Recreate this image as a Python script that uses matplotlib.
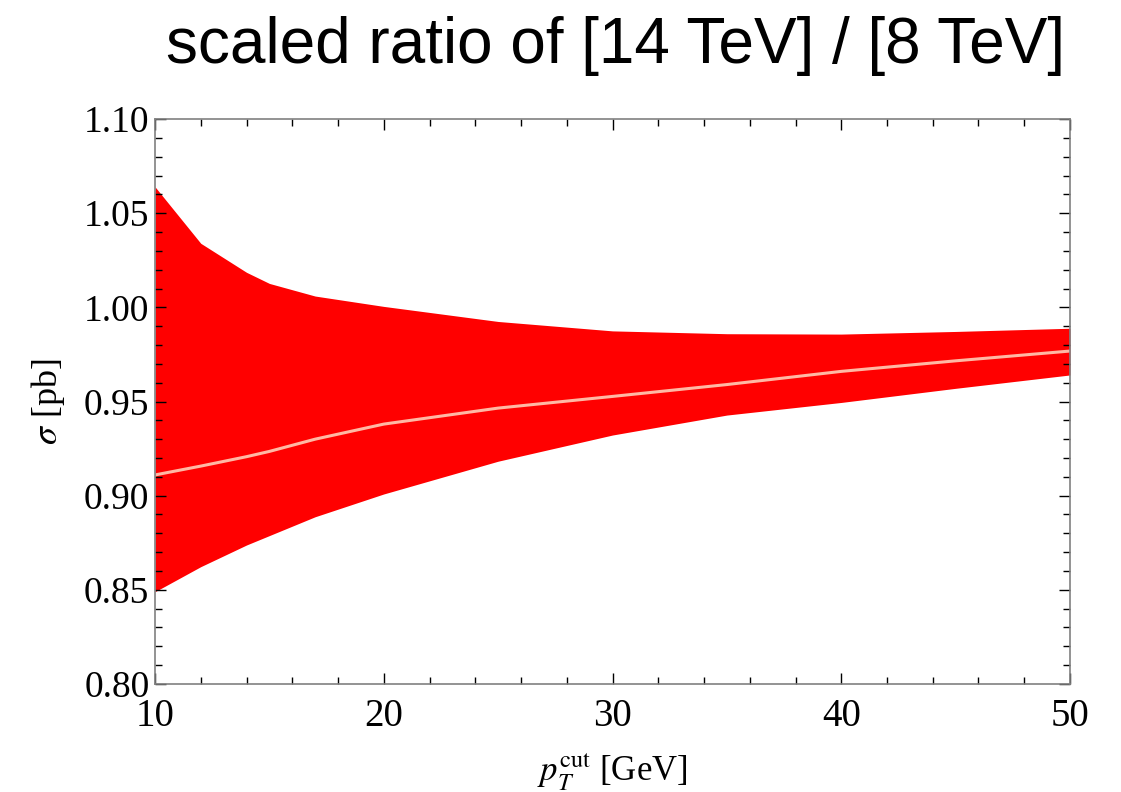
import matplotlib
matplotlib.use('Agg')
import matplotlib.pyplot as plt
from matplotlib.ticker import MultipleLocator

plt.rcParams['font.family'] = 'Liberation Serif'
plt.rcParams['mathtext.fontset'] = 'stix'

pt_cut = [10, 12, 14, 15, 17, 20, 25, 30, 35, 40, 45, 50]
upper = [1.064, 1.034, 1.0186, 1.0127, 1.006, 1.0005, 0.9925, 0.9875, 0.9860, 0.9858, 0.9872, 0.9889]
lower = [0.849, 0.8623, 0.8738, 0.8788, 0.8888, 0.9009, 0.9183, 0.9322, 0.9428, 0.9495, 0.957, 0.9641]
central = [0.911, 0.9157, 0.9207, 0.9235, 0.930, 0.938, 0.9465, 0.9527, 0.9590, 0.9660, 0.9716, 0.9768]

fig = plt.figure(figsize=(11.21, 7.92), dpi=100)
ax = fig.add_axes([0.1383, 0.1364, 0.8162, 0.7133])

ax.fill_between(pt_cut, lower, upper, color='#ff0000', linewidth=0)
ax.plot(pt_cut, central, color='#ffb8a4', linewidth=2.2)

ax.set_xlim(10, 50)
ax.set_ylim(0.80, 1.10)
ax.xaxis.set_major_locator(MultipleLocator(10))
ax.xaxis.set_minor_locator(MultipleLocator(2))
ax.yaxis.set_major_locator(MultipleLocator(0.05))
ax.yaxis.set_minor_locator(MultipleLocator(0.01))
ax.yaxis.set_major_formatter(plt.FormatStrFormatter('%.2f'))

ax.tick_params(which='both', direction='in', top=True, right=True, colors='black')
ax.tick_params(axis='x', labelsize=28, pad=10)
ax.tick_params(axis='y', labelsize=27, pad=4)
ax.tick_params(which='major', length=8, width=1)
ax.tick_params(which='minor', length=5, width=1)
for s in ax.spines.values():
    s.set_color('#808080')
    s.set_linewidth(1.2)

ax.set_xlabel(r'$p_T^{\rm cut}$ [GeV]', fontsize=25, labelpad=12)
ax.set_ylabel(r'$\sigma$ [pb]', fontsize=26, labelpad=12)

fig.text(0.549, 0.942, 'scaled ratio of [14 TeV] / [8 TeV]', fontsize=46,
         family='Liberation Sans', ha='center', va='center')

plt.savefig('out.png', dpi=100)
